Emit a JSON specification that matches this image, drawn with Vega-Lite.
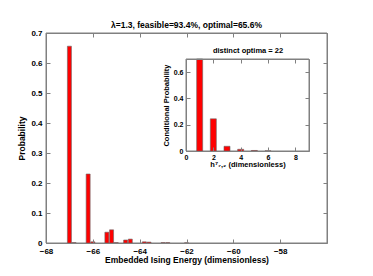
{
  "$schema": "https://vega.github.io/schema/vega-lite/v6.json",
  "width": 281,
  "height": 210,
  "autosize": {"type": "none"},
  "padding": {"left": 46, "top": 33, "right": 46, "bottom": 33},
  "background": "white",
  "config": {
    "font": "Liberation Sans",
    "view": {"stroke": null},
    "axis": {
      "grid": false,
      "domainColor": "#808080",
      "tickColor": "#808080",
      "labelColor": "#000000",
      "labelFont": "Liberation Sans",
      "labelFontWeight": "bold",
      "titleFont": "Liberation Sans",
      "titleFontWeight": "bold",
      "titleColor": "#000000",
      "tickSize": -4
    }
  },
  "title": {"text": "λ=1.3, feasible=93.4%, optimal=65.6%", "fontSize": 8.5, "fontWeight": "bold", "offset": 0, "font": "Liberation Sans", "color": "#000000"},
  "datasets": {
    "main": [
      {"energy": -67.0, "probability": 0.656},
      {"energy": -66.8, "probability": 0.001},
      {"energy": -66.2, "probability": 0.23},
      {"energy": -66.0, "probability": 0.004},
      {"energy": -65.4, "probability": 0.036},
      {"energy": -65.2, "probability": 0.044},
      {"energy": -65.0, "probability": 0.001},
      {"energy": -64.6, "probability": 0.01},
      {"energy": -64.4, "probability": 0.013},
      {"energy": -63.8, "probability": 0.004},
      {"energy": -63.6, "probability": 0.003},
      {"energy": -63.0, "probability": 0.001},
      {"energy": -62.8, "probability": 0.001},
      {"energy": -62.0, "probability": 0.0005}
    ],
    "inset": [
      {"h": 1, "p": 0.702},
      {"h": 2, "p": 0.245},
      {"h": 3, "p": 0.036},
      {"h": 4, "p": 0.013},
      {"h": 5, "p": 0.004},
      {"h": 6, "p": 0.001}
    ]
  },
  "layer": [
    {
      "data": {"values": [{}]},
      "mark": {"type": "rect", "fill": null, "fillOpacity": 0, "stroke": "#808080", "strokeWidth": 1},
      "encoding": {
        "x": {"datum": -68, "type": "quantitative",
              "scale": {"domain": [-68, -56], "nice": false, "zero": false, "padding": 0},
              "axis": {"orient": "top", "zindex": 1, "values": [-68, -66, -64, -62, -60, -58], "labels": false, "title": null}},
        "x2": {"datum": -56},
        "y": {"datum": 0, "type": "quantitative",
              "scale": {"domain": [0, 0.7], "nice": false, "padding": 0},
              "axis": {"orient": "right", "zindex": 1, "values": [0, 0.1, 0.2, 0.3, 0.4, 0.5, 0.6, 0.7], "labels": false, "title": null}},
        "y2": {"datum": 0.7}
      }
    },
    {
      "data": {"name": "main"},
      "mark": {"type": "bar", "width": 4, "fill": "#ff0000", "stroke": "#666666", "strokeWidth": 0.6},
      "encoding": {
        "x": {"field": "energy", "type": "quantitative",
              "scale": {"domain": [-68, -56], "nice": false, "zero": false, "padding": 0},
              "axis": {"orient": "bottom", "zindex": 1, "values": [-68, -66, -64, -62, -60, -58], "title": "Embedded Ising Energy (dimensionless)",
                       "labelFontSize": 8, "titleFontSize": 8.5, "labelPadding": 8, "titlePadding": 0, "labelFlush": false}},
        "y": {"field": "probability", "type": "quantitative",
              "scale": {"domain": [0, 0.7], "nice": false, "padding": 0},
              "axis": {"orient": "left", "zindex": 1, "values": [0, 0.1, 0.2, 0.3, 0.4, 0.5, 0.6, 0.7], "format": "~g", "title": "Probability",
                       "labelFontSize": 8, "titleFontSize": 8.5, "labelPadding": 8, "titlePadding": 4, "labelFlush": false}}
      }
    },
    {
      "data": {"values": [{}]},
      "mark": {"type": "rect", "fill": "white", "stroke": "#808080", "strokeWidth": 1},
      "encoding": {
        "x": {"datum": 0, "type": "quantitative",
              "scale": {"domain": [0, 9], "range": [140, 263], "nice": false, "zero": false, "padding": 0},
              "axis": {"orient": "bottom", "zindex": 1, "offset": -92, "values": [0, 2, 4, 6, 8], "title": "h⁷₇,₂ (dimensionless)",
                       "labelFontSize": 7, "titleFontSize": 7.5, "labelPadding": 6, "titlePadding": 0, "labelFlush": false}},
        "x2": {"datum": 9},
        "y": {"datum": 0, "type": "quantitative",
              "scale": {"domain": [0, 0.7], "range": [118, 26], "nice": false, "padding": 0},
              "axis": {"orient": "left", "zindex": 1, "offset": -140, "values": [0, 0.2, 0.4, 0.6], "format": "~g", "title": "Conditional Probability",
                       "labelFontSize": 7, "titleFontSize": 7.5, "labelPadding": 7, "titlePadding": 3, "labelFlush": false}},
        "y2": {"datum": 0.7}
      }
    },
    {
      "data": {"name": "inset"},
      "mark": {"type": "bar", "width": 6, "fill": "#ff0000", "stroke": "#666666", "strokeWidth": 0.6},
      "encoding": {
        "x": {"field": "h", "type": "quantitative",
              "scale": {"domain": [0, 9], "range": [140, 263], "nice": false, "zero": false, "padding": 0}, "axis": null},
        "y": {"field": "p", "type": "quantitative",
              "scale": {"domain": [0, 0.7], "range": [118, 26], "nice": false, "clamp": true, "padding": 0}, "axis": null}
      }
    },
    {
      "data": {"name": "inset"},
      "mark": {"type": "point", "opacity": 0},
      "encoding": {
        "x": {"field": "h", "type": "quantitative",
              "scale": {"domain": [0, 9], "range": [140, 263], "nice": false, "zero": false, "padding": 0},
              "axis": {"orient": "top", "zindex": 1, "offset": -26, "values": [0, 2, 4, 6, 8], "labels": false, "title": "distinct optima = 22",
                       "titleFontSize": 7.5, "titlePadding": 4}},
        "y": {"field": "p", "type": "quantitative",
              "scale": {"domain": [0, 0.7], "range": [118, 26], "nice": false, "clamp": true, "padding": 0},
              "axis": {"orient": "right", "zindex": 1, "offset": -18, "values": [0, 0.2, 0.4, 0.6], "labels": false, "title": null}}
      }
    }
  ],
  "resolve": {
    "scale": {"x": "independent", "y": "independent"},
    "axis": {"x": "independent", "y": "independent"}
  }
}
